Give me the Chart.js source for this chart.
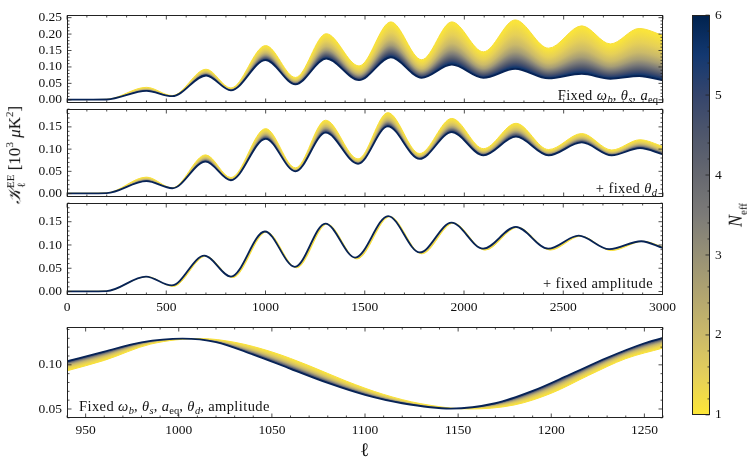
<!DOCTYPE html>
<html>
<head>
<meta charset="utf-8">
<script src="https://cdn.jsdelivr.net/npm/chart.js@4.4.1/dist/chart.umd.min.js"></script>
<style>
html, body { margin: 0; padding: 0; background: #fff; }
#wrap { position: relative; width: 752px; height: 464px; overflow: hidden;
        font-family: 'Liberation Serif', 'DejaVu Serif', serif; color: #111; }
canvas { position: absolute; display: block; }
.note { position: absolute; font-size: 14.5px; letter-spacing: 0.4px; line-height: 16px; white-space: nowrap; }
.note sub { font-size: 10.5px; vertical-align: 0; position: relative; top: 3px; letter-spacing: 0; }
.rot { position: absolute; width: 0; height: 0; }
.rot > div { position: absolute; left: 0; top: 0; transform-origin: 0 0;
             transform: rotate(-90deg) translate(-50%, -50%); white-space: nowrap; }
.ss { display: inline-flex; flex-direction: column; font-size: 11px; line-height: 11px; vertical-align: middle; }
sup { font-size: 11px; }
</style>
</head>
<body>
<div id="wrap">
  <canvas id="c1" width="680" height="114" style="left:0;top:2px"></canvas>
  <canvas id="c2" width="680" height="114" style="left:0;top:96px"></canvas>
  <canvas id="c3" width="680" height="131" style="left:0;top:190px"></canvas>
  <canvas id="c4" width="680" height="130" style="left:0;top:314px"></canvas>
  <canvas id="cb" width="70" height="426" style="left:682px;top:2px"></canvas>

  <div class="note" style="right:94px;top:87px">Fixed <i>ω</i><sub><i>b</i></sub>, <i>θ</i><sub><i>s</i></sub>, <i>a</i><sub>eq</sub></div>
  <div class="note" style="right:95px;top:180px">+ fixed <i>θ</i><sub><i>d</i></sub></div>
  <div class="note" style="right:99px;top:275px">+ fixed amplitude</div>
  <div class="note" style="left:79px;top:398px">Fixed <i>ω</i><sub><i>b</i></sub>, <i>θ</i><sub><i>s</i></sub>, <i>a</i><sub>eq</sub>, <i>θ</i><sub><i>d</i></sub>, amplitude</div>

  <div class="rot" style="left:15px;top:155px"><div style="font-size:17px"><i>𝒦</i><span class="ss"><span>EE</span><span>ℓ</span></span> [10<sup>3</sup> <i>μ</i>K<sup>2</sup>]</div></div>
  <div class="rot" style="left:737px;top:215px"><div style="font-size:18px"><i>N</i><sub style="font-size:11px">eff</sub></div></div>
  <div style="position:absolute;left:360px;top:439px;font-size:19px">ℓ</div>
</div>
<script>
// panel 1: fixed omega_b, theta_s, a_eq
const ell1 = [2, 100, 200, 400, 530, 700, 825, 1000, 1150, 1305, 1470, 1630, 1785, 1937, 2096, 2256, 2424, 2591, 2735, 2880, 3000];
const p1N6 = [0.0005, 0.0005, 0.001, 0.027, 0.011, 0.074, 0.029, 0.121, 0.047, 0.125, 0.060, 0.129, 0.067, 0.107, 0.067, 0.094, 0.065, 0.079, 0.064, 0.072, 0.059];
const p1N1 = [0.0008, 0.0008, 0.0015, 0.038, 0.013, 0.093, 0.036, 0.165, 0.068, 0.201, 0.103, 0.237, 0.122, 0.237, 0.146, 0.243, 0.157, 0.225, 0.170, 0.217, 0.196];

// panel 2: + fixed theta_d
const ell2 = [2, 100, 200, 400, 530, 698, 825, 1000, 1150, 1302, 1465, 1615, 1775, 1937, 2096, 2260, 2424, 2591, 2742, 2884, 3000];
const p2N6 = [0.0005, 0.0005, 0.001, 0.028, 0.012, 0.072, 0.030, 0.123, 0.050, 0.137, 0.067, 0.151, 0.078, 0.138, 0.086, 0.128, 0.086, 0.115, 0.086, 0.102, 0.088];
const p2N1 = [0.0008, 0.0008, 0.0015, 0.037, 0.013, 0.087, 0.036, 0.146, 0.058, 0.165, 0.078, 0.182, 0.090, 0.169, 0.101, 0.158, 0.099, 0.135, 0.098, 0.121, 0.106];

// panel 3: + fixed amplitude (N_eff = 1 slightly shifted to higher ell)
const ell3N6 = [2, 100, 200, 398, 527, 692, 826, 997, 1148, 1302, 1452, 1618, 1777, 1937, 2096, 2261, 2424, 2578, 2731, 2893, 3000];
const p3N6 = [0.0005, 0.0005, 0.001, 0.032, 0.013, 0.077, 0.032, 0.129, 0.053, 0.146, 0.073, 0.162, 0.084, 0.148, 0.092, 0.139, 0.092, 0.120, 0.091, 0.108, 0.094];
const ell3N1 = [2, 100, 200, 404, 535, 700, 835, 1006, 1157, 1311, 1461, 1627, 1787, 1947, 2106, 2271, 2434, 2589, 2742, 2904, 3000];
const p3N1 = [0.0005, 0.0005, 0.001, 0.032, 0.011, 0.076, 0.030, 0.128, 0.051, 0.145, 0.070, 0.161, 0.081, 0.147, 0.089, 0.138, 0.089, 0.119, 0.088, 0.108, 0.096];

// panel 4: zoom, everything fixed
const ell4N6 = [940, 960, 980, 1002, 1020, 1040, 1060, 1080, 1100, 1120, 1146, 1170, 1190, 1210, 1230, 1250, 1260];
const p4N6 = [0.1040, 0.1150, 0.1255, 0.1297, 0.1258, 0.1115, 0.0955, 0.0795, 0.0660, 0.0565, 0.0505, 0.0565, 0.0705, 0.0890, 0.1080, 0.1244, 0.1305];
const ell4N1 = [940, 960, 985, 1012, 1030, 1050, 1070, 1090, 1110, 1130, 1156, 1180, 1200, 1220, 1240, 1260];
const p4N1 = [0.0932, 0.1050, 0.1235, 0.1297, 0.1255, 0.1146, 0.0990, 0.0815, 0.0665, 0.0560, 0.0500, 0.0545, 0.0678, 0.0880, 0.1070, 0.1190];

// colour bar
const neffRange = [1, 6];
const neffTicks = [1, 2, 3, 4, 5, 6];

const font = { family: "'Liberation Serif', 'DejaVu Serif', serif", size: 13.5 };
const ink = '#111';

// cividis (reversed): position from N_eff=1 (yellow) to N_eff=6 (navy)
const barStops = [[0, '#fde737'], [0.1, '#e4cf5b'], [0.2, '#cbba69'], [0.3, '#b1a570'], [0.4, '#979176'],
  [0.5, '#7c7b78'], [0.6, '#666870'], [0.7, '#4f576c'], [0.8, '#35456c'], [0.9, '#133870'], [1, '#00224e']];
// inside the band the curves bunch up towards N_eff = 6
const bandStops = [[0, '#fde737'], [0.3, '#e6d057'], [0.5, '#cbba69'], [0.65, '#a69d75'], [0.76, '#7c7b78'],
  [0.85, '#575d6d'], [0.92, '#35456c'], [0.97, '#11366c'], [1, '#00224e']];

function pts(xs, ys) { return xs.map((x, i) => ({ x: x, y: ys[i] })); }

function at(line, x) {
  const p = line.interpolate({ x: x }, 'x');
  if (!p) return null;
  return Array.isArray(p) ? p[0] : p;
}

// paints the spread between the N_eff=1 and N_eff=6 curves column by column
const bandFill = {
  id: 'bandFill',
  beforeDatasetsDraw(chart) {
    const l6 = chart.getDatasetMeta(0).dataset;
    const l1 = chart.getDatasetMeta(1).dataset;
    const area = chart.chartArea;
    l6.updateControlPoints(area, 'x');
    l1.updateControlPoints(area, 'x');
    const ctx = chart.ctx;
    ctx.save();
    ctx.beginPath();
    ctx.rect(area.left, area.top, area.right - area.left, area.bottom - area.top);
    ctx.clip();
    for (let x = Math.floor(area.left); x < area.right; x++) {
      const a = at(l1, x + 0.5), b = at(l6, x + 0.5);
      if (!a || !b) continue;
      if (Math.abs(b.y - a.y) < 0.3) continue;
      const g = ctx.createLinearGradient(0, a.y, 0, b.y);
      bandStops.forEach(s => g.addColorStop(s[0], s[1]));
      ctx.fillStyle = g;
      ctx.fillRect(x, Math.min(a.y, b.y), 1, Math.abs(b.y - a.y));
    }
    ctx.restore();
  }
};

// box frame with inward major and minor ticks on the chosen sides
const frameTicks = {
  id: 'frameTicks',
  afterDatasetsDraw(chart, args, opts) {
    const ctx = chart.ctx;
    const a = chart.chartArea;
    const L = Math.round(a.left) + 0.5, R = Math.round(a.right) - 0.5;
    const T = Math.round(a.top) + 0.5, B = Math.round(a.bottom) - 0.5;
    ctx.save();
    ctx.strokeStyle = '#222';
    ctx.lineWidth = 1;
    ctx.strokeRect(L, T, R - L, B - T);
    ctx.lineWidth = 0.8;
    const sides = opts.sides || ['top', 'bottom', 'left', 'right'];
    function ticks(scale, spec, draw) {
      if (!spec) return;
      const ratio = Math.round(spec[0] / spec[1]);
      const k0 = Math.ceil(scale.min / spec[1] - 1e-6), k1 = Math.floor(scale.max / spec[1] + 1e-6);
      for (let k = k0; k <= k1; k++) {
        const p = scale.getPixelForValue(k * spec[1]);
        draw(p, k % ratio === 0 ? 4 : 2);
      }
    }
    ctx.beginPath();
    if (opts.x) ticks(chart.scales.x, opts.x, (p, len) => {
      if (sides.includes('bottom')) { ctx.moveTo(p, B); ctx.lineTo(p, B - len); }
      if (sides.includes('top')) { ctx.moveTo(p, T); ctx.lineTo(p, T + len); }
    });
    ticks(chart.scales.y, opts.y, (p, len) => {
      if (sides.includes('left')) { ctx.moveTo(L, p); ctx.lineTo(L + len, p); }
      if (sides.includes('right')) { ctx.moveTo(R, p); ctx.lineTo(R - len, p); }
    });
    ctx.stroke();
    ctx.restore();
  }
};

function panel(id, xs6, ys6, xs1, ys1, xr, yr, xt, yt, showX) {
  new Chart(document.getElementById(id), {
    type: 'line',
    data: {
      datasets: [
        { label: 'N_eff = 6', data: pts(xs6, ys6), borderColor: '#072356', borderWidth: 1.8 },
        { label: 'N_eff = 1', data: pts(xs1, ys1), borderColor: '#f7df3c', borderWidth: 1 }
      ]
    },
    options: {
      responsive: false,
      animation: false,
      layout: { autoPadding: false, padding: { left: 0, right: 17, top: 10, bottom: showX ? 2 : 10 } },
      elements: { point: { radius: 0 }, line: { cubicInterpolationMode: 'monotone', fill: false } },
      scales: {
        x: {
          type: 'linear', min: xr[0], max: xr[1],
          grid: { display: false, drawTicks: false }, border: { display: false },
          ticks: { display: showX, stepSize: xt[0], includeBounds: false, autoSkip: false, font: font, color: ink,
                   padding: 4, maxRotation: 0, callback: v => String(v) },
          afterFit: s => { s.height = showX ? 24 : 0; }
        },
        y: {
          min: yr[0], max: yr[1],
          grid: { display: false, drawTicks: false }, border: { display: false },
          ticks: { stepSize: yt[0], includeBounds: false, autoSkip: false, font: font, color: ink, padding: 5,
                   callback: v => v.toFixed(2) },
          afterFit: s => { s.width = 67; }
        }
      },
      plugins: { legend: { display: false }, tooltip: { enabled: false }, frameTicks: { x: xt, y: yt } }
    },
    plugins: [bandFill, frameTicks]
  });
}

panel('c1', ell1, p1N6, ell1, p1N1, [0, 3000], [-0.0094, 0.2577], [500, 100], [0.05, 0.01], false);
panel('c2', ell2, p2N6, ell2, p2N1, [0, 3000], [-0.0075, 0.19], [500, 100], [0.05, 0.01], false);
panel('c3', ell3N6, p3N6, ell3N1, p3N1, [0, 3000], [-0.0075, 0.19], [500, 100], [0.05, 0.01], true);
panel('c4', ell4N6, p4N6, ell4N1, p4N1, [940, 1260], [0.0398, 0.1427], [50, 10], [0.05, 0.01], true);

// colour bar for N_eff
new Chart(document.getElementById('cb'), {
  type: 'bar',
  data: {
    labels: ['N_eff'],
    datasets: [{
      data: [neffRange],
      barPercentage: 1, categoryPercentage: 1, borderWidth: 0,
      backgroundColor: c => {
        const a = c.chart.chartArea;
        if (!a) return '#7c7b78';
        const g = c.chart.ctx.createLinearGradient(0, a.bottom, 0, a.top);
        barStops.forEach(s => g.addColorStop(s[0], s[1]));
        return g;
      }
    }]
  },
  options: {
    responsive: false,
    animation: false,
    layout: { autoPadding: false, padding: { left: 10, right: 0, top: 10, bottom: 10 } },
    scales: {
      x: { display: false },
      y: {
        position: 'right', min: neffRange[0], max: neffRange[1],
        grid: { display: false, drawTicks: false }, border: { display: false },
        afterBuildTicks: s => { s.ticks = neffTicks.map(v => ({ value: v })); },
        ticks: { font: font, color: ink, padding: 5 },
        afterFit: s => { s.width = 42; }
      }
    },
    plugins: { legend: { display: false }, tooltip: { enabled: false },
               frameTicks: { y: [1, 0.2], sides: ['right'] } }
  },
  plugins: [frameTicks]
});
</script>
</body>
</html>
